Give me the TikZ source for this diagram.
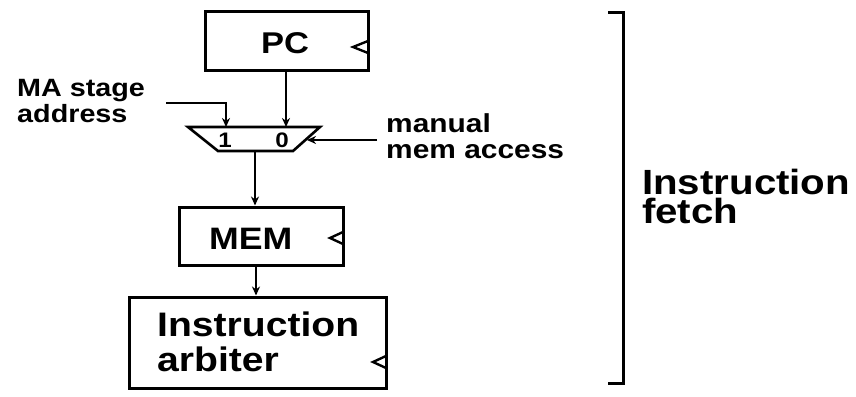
\documentclass[tikz,border=0pt]{standalone}
\usepackage{fontspec}
\setmainfont{Liberation Sans}[FakeStretch=1.15]
\usetikzlibrary{arrows.meta}
\begin{document}
\begin{tikzpicture}[x=1pt,y=-1pt,
  blk/.style={draw,line width=3pt,inner sep=0pt},
  wire/.style={line width=2.6pt},
  arr/.style={wire,-{Stealth[length=9pt,width=8pt]}},
  clk/.style={line width=2.4pt,line join=miter},
  txt/.style={inner sep=0pt,font=\bfseries,align=left,anchor=north west}]
\useasboundingbox (0,0) rectangle (856,396);
% boxes
\node[blk,minimum width=163pt,minimum height=58pt] (pc) at (286.5,41) {};
\node[blk,minimum width=164pt,minimum height=58pt] (mem) at (261,236) {};
\node[blk,minimum width=257pt,minimum height=91pt] (arb) at (257.5,342.5) {};
% clock marks
\draw[clk] (368,41) -- (353,47) -- (368,53);
\draw[clk] (343,232) -- (330,238) -- (343,244);
\draw[clk] (386,356) -- (373,362) -- (386,368);
% box texts
\node[txt,font=\bfseries\fontsize{30}{30}\selectfont,anchor=base west] (pct) at (261,54) {PC};
\node[txt,font=\bfseries\fontsize{31}{31}\selectfont,anchor=base west] (memt) at (209,249) {MEM};
\node[txt,font=\bfseries\fontsize{34}{35}\selectfont] (arbt) at (157,312) {Instruction\\arbiter};
% mux
\coordinate (m1) at (188,127);
\coordinate (m2) at (320,127);
\coordinate (m3) at (293,151);
\coordinate (m4) at (218,151);
\draw[line width=2.6pt,line join=miter] (m1) -- (m2) -- (m3) -- (m4) -- cycle;
\coordinate (in1) at (226,127);
\coordinate (in0) at (286,127);
\coordinate (inm) at (307,140);
\coordinate (mout) at (255,151);
\node[inner sep=0pt,font=\bfseries\fontsize{21}{21}\selectfont,anchor=base] (d1) at (225,147) {1};
\node[inner sep=0pt,font=\bfseries\fontsize{21}{21}\selectfont,anchor=base] (d0) at (282,147) {0};
% labels
\node[txt,font=\bfseries\fontsize{25}{26}\selectfont] (ma) at (17,79) {MA stage\\address};
\node[txt,font=\bfseries\fontsize{26}{26}\selectfont] (man) at (386,113) {manual\\mem access};
\node[txt,font=\bfseries\fontsize{35}{29}\selectfont] (ift) at (642,169) {Instruction\\fetch};
% wires
\coordinate (mas) at (166,103);
\coordinate (mans) at (377,140);
\draw[arr] (mas) -| (in1);
\draw[arr] (pc.south -| in0) -- (in0);
\draw[arr] (mans) -- (inm);
\draw[arr] (mout) -- (mem.north -| mout);
\draw[arr] (mem.south -| 256,0) -- (arb.north -| 256,0);
% bracket
\coordinate (bt) at (608,13);
\coordinate (bb) at (608,383);
\draw[line width=3pt,line join=miter] (bt) -- (623,13) -- (623,383) -- (bb);
\end{tikzpicture}
\end{document}
